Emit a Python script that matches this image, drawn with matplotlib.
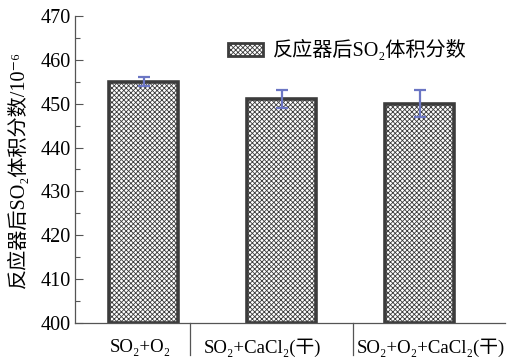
import matplotlib
matplotlib.use("Agg")
import matplotlib.pyplot as plt
import matplotlib.transforms as mtransforms
from matplotlib.patches import Patch

categories = ["SO₂+O₂", "SO₂+CaCl₂(干)", "SO₂+O₂+CaCl₂(干)"]
values = [455, 451, 450]
errors = [1, 2, 3]
legend_label = "反应器后SO₂体积分数"
ylabel = "反应器后SO₂体积分数/10⁻⁶"
yticks = [400, 410, 420, 430, 440, 450, 460, 470]

fam = ['Liberation Serif', 'DejaVu Serif', 'Noto Sans CJK SC']
plt.rcParams['font.family'] = fam
plt.rcParams['hatch.linewidth'] = 0.6
plt.rcParams['hatch.color'] = '#666666'

fig = plt.figure(figsize=(5.07, 3.61), dpi=100)
ax = fig.add_axes([0.148, 0.105, 0.848, 0.851])

x = list(range(len(categories)))
ax.bar(x, [v - 400 for v in values], bottom=400, width=0.5,
       color='white', edgecolor='#3c3c3c', linewidth=2.6, hatch='xxxxxxx')
ax.errorbar(x, values, yerr=errors, fmt='none', ecolor='#6b76c4',
            elinewidth=1.6, capsize=4, capthick=1.6)

ax.set_ylim(400, 470)
ax.set_xlim(-0.5, 2.62)
ax.set_yticks(yticks)
ax.set_yticks(range(405, 470, 10), minor=True)
ax.tick_params(axis='y', which='major', direction='in', length=6, width=0.8,
               color='#555555', labelsize=14.5, pad=3)
ax.tick_params(axis='y', which='minor', direction='in', length=3.5, width=0.8,
               color='#555555')
ax.set_xticks([])
for s in ['top', 'right']:
    ax.spines[s].set_visible(False)
for s in ['left', 'bottom']:
    ax.spines[s].set_color('#555555')
    ax.spines[s].set_linewidth(0.9)

trans = mtransforms.blended_transform_factory(ax.transData, ax.transAxes)
for sx in [0.337, 1.52]:
    ax.plot([sx, sx], [0, -0.105], transform=trans, clip_on=False,
            color='#555555', lw=0.9)
label_x = [-0.025, 0.86, 2.085]
for lx, lab in zip(label_x, categories):
    ax.text(lx, -0.081, lab, transform=trans, ha='center', va='center',
            fontsize=13.5)

ax.set_ylabel(ylabel, fontsize=14.5, labelpad=2)
ax.yaxis.set_label_coords(-0.108, 0.5)

handle = Patch(facecolor='white', edgecolor='#3c3c3c', linewidth=2.0,
               hatch='xxxxxxx')
fig.legend([handle], [legend_label], loc='center left',
           bbox_to_anchor=(0.4497, 0.859), frameon=False, fontsize=14.5,
           borderpad=0, borderaxespad=0, handlelength=1.75, handleheight=0.6,
           handletextpad=0.5)

fig.savefig('out.png', dpi=100)
